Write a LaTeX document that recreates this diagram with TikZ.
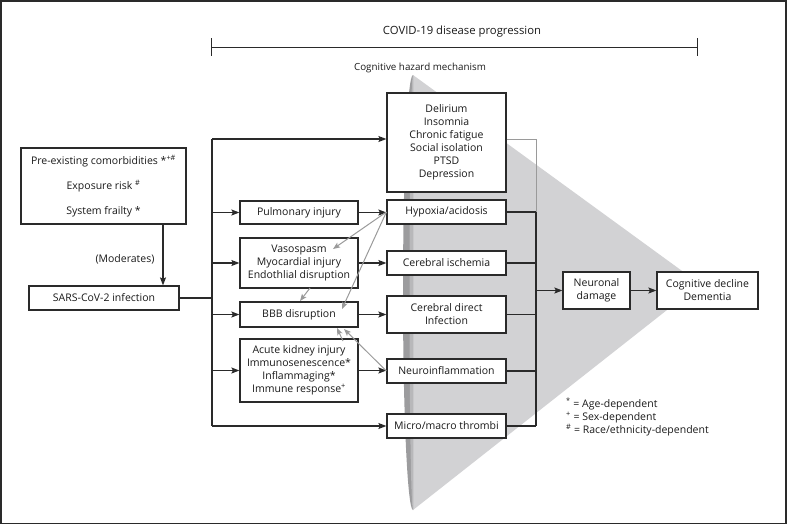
\documentclass[tikz,border=0pt]{standalone}
\usepackage{fontspec}
\setmainfont{Open Sans}
\usetikzlibrary{arrows.meta,calc}
\definecolor{ln}{HTML}{2A2A2A}
\definecolor{tx}{HTML}{1A1A1A}
\definecolor{garr}{HTML}{9A9A9A}
\definecolor{conel}{HTML}{D2D2D4}
\definecolor{coned}{HTML}{9C9C9E}
\definecolor{conem}{HTML}{B8B8BA}
\tikzset{
  box/.style={draw=ln, line width=1.2pt, fill=white, inner sep=0pt, align=center, text=tx,
    font=\fontsize{10.5}{13}\selectfont},
  conn/.style={draw=ln, line width=1.2pt},
  arr/.style={conn, -{Stealth[length=8pt,width=6pt,inset=1.5pt]}},
  garrow/.style={draw=garr, line width=1pt, -{Stealth[length=7pt,width=5.5pt,inset=1.5pt]}},
  lbl/.style={text=tx, inner sep=0pt, font=\fontsize{10.5}{13}\selectfont}
}
\begin{document}
\begin{tikzpicture}[x=1pt,y=-1pt]
\useasboundingbox (0,0) rectangle (787,525);
% cone
\fill[conel] (413,75) -- (700,284) -- (413,510) -- cycle;
\fill[coned] (413,75) arc[start angle=-90, end angle=-270, x radius=10, y radius=217.5] -- cycle;
\fill[conem] (413,75) arc[start angle=-90, end angle=-270, x radius=3.5, y radius=217.5] -- cycle;
% frame
\draw[ln, line width=1.6pt] (1,1) rectangle (786,523.5);
% top bar
\coordinate (barL) at (211,47);
\coordinate (barR) at (697,47);
\draw[conn, line width=1pt] (barL) -- (barR);
\draw[conn, line width=1pt] ($(barL)+(0,-9)$) -- ($(barL)+(0,9)$);
\draw[conn, line width=1pt] ($(barR)+(0,-9)$) -- ($(barR)+(0,9)$);
\node[text=tx, font=\fontsize{11.3}{14}\selectfont] (title) at (462,32) {COVID-19 disease progression};
\node[text=tx, font=\fontsize{9.8}{12}\selectfont] (haz) at (420,68) {Cognitive hazard mechanism};
% left boxes
\node[box, minimum width=165pt, minimum height=76pt] (comorb) at (103.5,186)
  {Pre-existing comorbidities *\textsuperscript{+\#}\\[12pt]Exposure risk \textsuperscript{\#}\\[12pt]System frailty *};
\node[box, minimum width=150pt, minimum height=24pt] (sars) at (104,298) {SARS-CoV-2 infection};
% column 2
\node[box, minimum width=118pt, minimum height=23pt] (pulm) at (299,212.5) {Pulmonary injury};
\node[box, minimum width=118pt, minimum height=50pt] (vaso) at (299,263) {Vasospasm\\Myocardial injury\\Endothlial disruption};
\node[box, minimum width=118pt, minimum height=25pt] (bbb) at (299,314.5) {BBB disruption};
\node[box, minimum width=118pt, minimum height=63pt] (aki) at (299,370.5) {Acute kidney injury\\Immunosenescence*\\Inflammaging*\\Immune response\textsuperscript{+}};
% column 3
\node[box, minimum width=119pt, minimum height=99pt] (delir) at (446.5,142.5) {Delirium\\Insomnia\\Chronic fatigue\\Social isolation\\PTSD\\Depression};
\node[box, minimum width=119pt, minimum height=24pt] (hyp) at (446.5,212) {Hypoxia/acidosis};
\node[box, minimum width=119pt, minimum height=24pt] (isch) at (446.5,263) {Cerebral ischemia};
\node[box, minimum width=119pt, minimum height=37pt] (direct) at (446.5,314.5) {Cerebral direct\\Infection};
\node[box, minimum width=119pt, minimum height=24pt] (neuro) at (446.5,371) {Neuroinflammation};
\node[box, minimum width=119pt, minimum height=24pt] (micro) at (446.5,426) {Micro/macro thrombi};
% right boxes
\node[box, minimum width=67pt, minimum height=37pt] (neuron) at (596.5,290.5) {Neuronal\\damage};
\node[box, minimum width=101pt, minimum height=37pt] (cog) at (707.5,290.5) {Cognitive decline\\Dementia};
% legend
\node[lbl, anchor=west, align=left] (legend) at (566,417) {\textsuperscript{*} = Age-dependent\\\textsuperscript{+} = Sex-dependent\\\textsuperscript{\#} = Race/ethnicity-dependent};
% moderates
\draw[arr] (comorb.south -| 163,0) -- (sars.north -| 163,0) node[lbl, midway, anchor=east, xshift=-8pt, yshift=-4pt] (mod) {(Moderates)};
% left trunk
\coordinate (lt) at (212,139);
\coordinate (lb) at (212,426);
\draw[conn] (lt) -- (lb);
\draw[conn] (sars.east) -- (sars.east -| lt);
\draw[arr] (lt) -- (lt -| delir.west);
\draw[arr] (lt |- pulm.west) -- (pulm.west);
\draw[arr] (lt |- vaso.west) -- (vaso.west);
\draw[arr] (lt |- bbb.west) -- (bbb.west);
\draw[arr] (lt |- aki.west) -- (aki.west);
\draw[arr] (lb) -- (lb -| micro.west);
% column 2 to column 3
\draw[arr] (pulm.east) -- (pulm.east -| hyp.west);
\draw[arr] (vaso.east) -- (vaso.east -| isch.west);
\draw[arr] (bbb.east) -- (bbb.east -| direct.west);
\draw[arr] (aki.east) -- (aki.east -| neuro.west);
% right trunk
\coordinate (rt) at (536,212);
\coordinate (rb) at (536,426);
\draw[garr, line width=1pt] (delir.east |- lt) -- (lt -| rt) -- (rt);
\draw[conn] (rt) -- (rb);
\draw[conn] (hyp.east) -- (rt);
\draw[conn] (isch.east) -- (isch.east -| rt);
\draw[conn] (direct.east) -- (direct.east -| rt);
\draw[conn] (neuro.east) -- (neuro.east -| rt);
\draw[conn] (micro.east) -- (rb);
\draw[arr] (rt |- neuron.west) -- (neuron.west);
\draw[arr] (neuron.east) -- (cog.west);
% grey arrows
\draw[garrow] (hyp.west) -- (333,249);
\draw[garrow] (hyp.west) -- (342,309);
\draw[garrow] (310,288) -- (300,301);
\draw[garrow] (343,341) -- (337,328);
\draw[garrow] (neuro.west) -- (344,329);
\end{tikzpicture}
\end{document}
